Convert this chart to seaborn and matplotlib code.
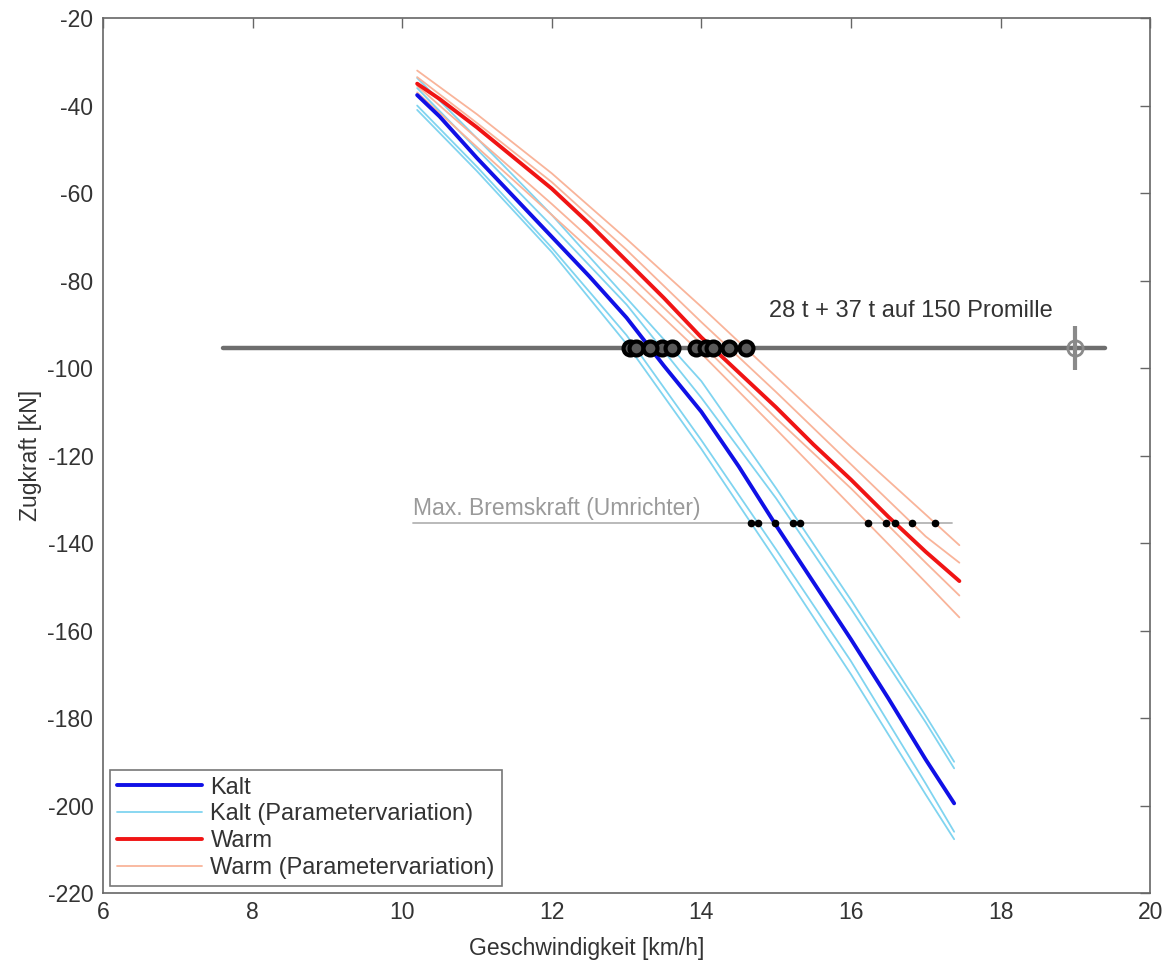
import numpy as np
import pandas as pd
import matplotlib
matplotlib.use('Agg')
import matplotlib.pyplot as plt
from matplotlib.lines import Line2D
import seaborn as sns

# ---------------- data ----------------
speed_kalt_main = [10.2, 10.5, 11, 11.5, 12, 12.5, 13, 13.5, 14, 14.5, 15, 15.5, 16, 16.5, 17, 17.38]
kalt = [-37.6, -42.5, -52, -61, -70, -79, -88.5, -99.5, -110, -122.5, -136, -149, -162, -175.5, -189.5, -199.5]

speed_kalt = [10.2, 11, 12, 13, 14, 15, 16, 17, 17.38]
kalt_var1 = [-41, -55, -73.5, -94.5, -118.5, -144, -170, -197.5, -207.7]
kalt_var2 = [-40, -54, -72.5, -92.5, -116.5, -141.5, -167, -195, -206]
kalt_var3 = [-36, -50, -67.5, -85.5, -106.8, -129.8, -155, -181, -191.5]
kalt_var4 = [-33.7, -47.5, -65, -84, -103, -127.5, -153, -179.5, -190]

speed_warm_main = [10.2, 10.5, 11, 11.5, 12, 12.5, 13, 13.5, 14, 14.5, 15, 15.5, 16, 16.5, 17, 17.45]
warm = [-35, -38.5, -45, -52, -59, -67, -75.5, -84, -93, -101, -109, -117.5, -125.5, -134, -142, -148.7]

speed_warm = [10.2, 11, 12, 13, 14, 15, 16, 17, 17.45]
warm_var1 = [-37, -49.5, -65, -80.5, -96.7, -114, -131.5, -149, -157]
warm_var2 = [-35.5, -47.5, -62.5, -78, -94.5, -111.5, -127.5, -144.5, -152]
warm_var3 = [-33.5, -44, -57.5, -73, -89.5, -105.5, -122, -138.5, -144.5]
warm_var4 = [-32, -42, -55.5, -70.5, -86, -102, -118, -133.5, -140.5]

load_force = -95.5           # 28 t + 37 t auf 150 Promille
load_speed_range = [7.6, 19.4]
load_marker_speed = 19.0
load_marker_err = 5.0
brake_force = -135.5         # Max. Bremskraft (Umrichter)
brake_speed_range = [10.15, 17.35]

xticks = [6, 8, 10, 12, 14, 16, 18, 20]
yticks = [-220, -200, -180, -160, -140, -120, -100, -80, -60, -40, -20]

# ---------------- style ----------------
sns.set_theme(style='white')
plt.rcParams['font.family'] = ['Liberation Sans', 'DejaVu Sans']
plt.rcParams['axes.unicode_minus'] = False

c_kalt = '#1010e6'
c_kalt_var = '#80d4f0'
c_warm = '#f01414'
c_warm_var = '#f9b49a'
c_text = '#333333'

fig = plt.figure(figsize=(11.63, 9.65), dpi=100)
ax = fig.add_axes([0.0886, 0.0746, 0.9003, 0.9067])

kalt_vars = [kalt_var1, kalt_var2, kalt_var3, kalt_var4]
warm_vars = [warm_var1, warm_var2, warm_var3, warm_var4]

for v in kalt_vars:
    sns.lineplot(x=speed_kalt, y=v, ax=ax, color=c_kalt_var, lw=1.3, sort=False, estimator=None)
for v in warm_vars:
    sns.lineplot(x=speed_warm, y=v, ax=ax, color=c_warm_var, lw=1.3, sort=False, estimator=None)
sns.lineplot(x=speed_kalt_main, y=kalt, ax=ax, color=c_kalt, lw=2.8, sort=False, estimator=None)
sns.lineplot(x=speed_warm_main, y=warm, ax=ax, color=c_warm, lw=2.8, sort=False, estimator=None)

# horizontal reference lines
ax.plot(load_speed_range, [load_force, load_force], color='#6e6e6e', lw=3.2, zorder=4)
ax.plot(brake_speed_range, [brake_force, brake_force], color='#b4b4b4', lw=1.3, zorder=4)

# crossing points (computed from the curves)
def crossing(speed, force, level):
    return float(np.interp(level, np.array(force)[::-1], np.array(speed)[::-1]))

all_curves = ([(speed_kalt, c) for c in kalt_vars] + [(speed_kalt_main, kalt)] +
              [(speed_warm, c) for c in warm_vars] + [(speed_warm_main, warm)])
cross_load = [crossing(s, f, load_force) for s, f in all_curves]
cross_brake = [crossing(s, f, brake_force) for s, f in all_curves]

ax.plot(cross_load, [load_force] * len(cross_load), ls='none', marker='o', ms=10,
        mfc='#5a5a5a', mec='black', mew=3, zorder=6)
ax.plot(cross_brake, [brake_force] * len(cross_brake), ls='none', marker='o', ms=4.5,
        mfc='black', mec='black', zorder=6)

ax.errorbar([load_marker_speed], [load_force], yerr=[[load_marker_err], [load_marker_err]],
            fmt='o', mfc='none', mec='#8a8a8a', ecolor='#8a8a8a', ms=11, mew=2,
            elinewidth=3, capsize=0, zorder=7)

ax.text(14.9, -87, '28 t + 37 t auf 150 Promille', fontsize=17, color=c_text,
        ha='left', va='center')
ax.text(brake_speed_range[0], brake_force + 0.8, 'Max. Bremskraft (Umrichter)', fontsize=16.5,
        color='#9a9a9a', ha='left', va='bottom')

# axes
ax.set_xlim(6, 20)
ax.set_ylim(-220, -20)
ax.set_xticks(xticks)
ax.set_yticks(yticks)
ax.tick_params(direction='in', top=True, right=True, length=7, width=1, color='#666666',
               labelsize=16.5, labelcolor=c_text)
ax.tick_params(axis='y', pad=7)
ax.tick_params(axis='x', pad=6)
for s in ax.spines.values():
    s.set_color('#666666')
    s.set_linewidth(1.2)
ax.set_xlabel('Geschwindigkeit [km/h]', fontsize=16.5, color=c_text, labelpad=2)
ax.xaxis.set_label_coords(0.462, -0.05)
ax.set_ylabel('Zugkraft [kN]', fontsize=16.5, color=c_text, labelpad=4)

handles = [Line2D([], [], color=c_kalt, lw=2.8),
           Line2D([], [], color=c_kalt_var, lw=1.3),
           Line2D([], [], color=c_warm, lw=2.8),
           Line2D([], [], color=c_warm_var, lw=1.3)]
labels = ['Kalt', 'Kalt (Parametervariation)', 'Warm', 'Warm (Parametervariation)']
leg = ax.legend(handles, labels, loc='lower left', fontsize=17, frameon=True, fancybox=False,
                edgecolor='#555555', handlelength=3.6, handletextpad=0.35, labelspacing=0.2,
                borderpad=0.3, borderaxespad=0.3)
leg.get_frame().set_linewidth(1.2)
for t in leg.get_texts():
    t.set_color(c_text)

fig.savefig('out.png', dpi=100)
